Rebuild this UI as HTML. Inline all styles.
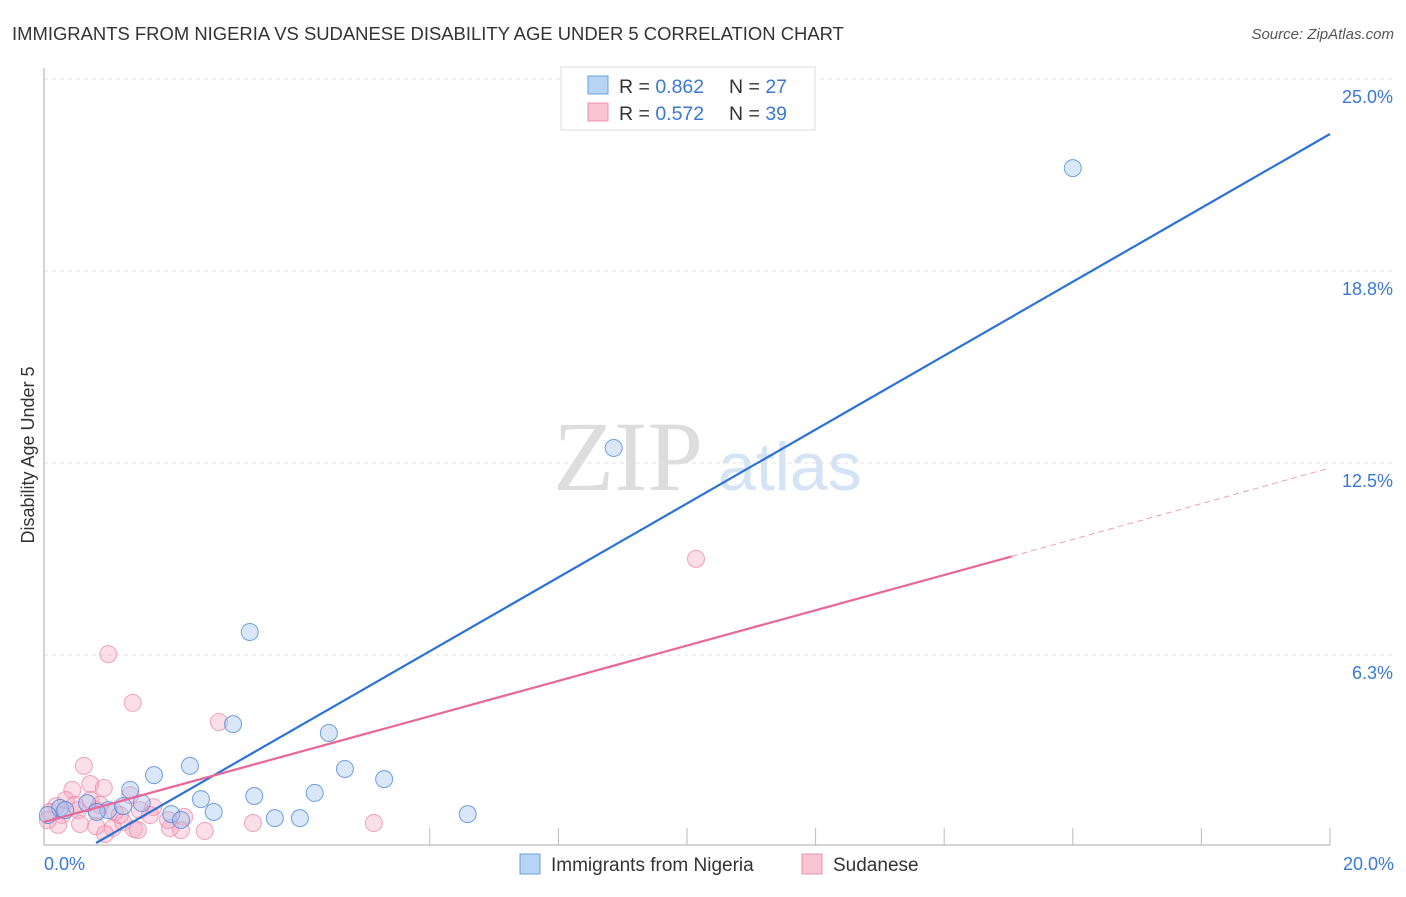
<!DOCTYPE html>
<html><head><meta charset="utf-8"><style>
body{margin:0;background:#fff;font-family:"Liberation Sans",sans-serif}
svg text{font-family:"Liberation Sans",sans-serif}
</style></head><body>
<svg width="1406" height="892">
<text x="12" y="40" font-size="18.45" fill="#333">IMMIGRANTS FROM NIGERIA VS SUDANESE DISABILITY AGE UNDER 5 CORRELATION CHART</text>
<text x="1394" y="39" font-size="15" fill="#555" font-style="italic" text-anchor="end">Source: ZipAtlas.com</text>
<text x="553" y="490" font-size="100" fill="#ddd" style="font-family:'Liberation Serif',serif">ZIP</text>
<text x="718" y="490" font-size="68" fill="#d5e4f5">atlas</text>
<g id="grid"></g>
<line x1="44" y1="68" x2="44" y2="845" stroke="#aaa"/>
<line x1="44" y1="845" x2="1330" y2="845" stroke="#aaa"/>
<text transform="translate(34,455) rotate(-90)" font-size="18" fill="#333" text-anchor="middle">Disability Age Under 5</text>
<text x="44" y="870" font-size="18" fill="#3a78d4">0.0%</text>
<text x="1394" y="870" font-size="18" fill="#3a78d4" text-anchor="end">20.0%</text>
<g id="marks"></g>
<g>
<rect x="561" y="67" width="254" height="63" fill="#fff" stroke="#ddd"/>
<rect x="588" y="76" width="20" height="18" fill="#b8d4f5" stroke="#6a9fe0"/>
<rect x="588" y="103" width="20" height="18" fill="#f9c4d4" stroke="#e890ae"/>
<text x="619" y="93" font-size="19.5" fill="#333">R = <tspan fill="#3a78d4">0.862</tspan></text>
<text x="729" y="93" font-size="19.5" fill="#333">N = <tspan fill="#3a78d4">27</tspan></text>
<text x="619" y="120" font-size="19.5" fill="#333">R = <tspan fill="#3a78d4">0.572</tspan></text>
<text x="729" y="120" font-size="19.5" fill="#333">N = <tspan fill="#3a78d4">39</tspan></text>
</g>
<g>
<rect x="520" y="854" width="20" height="20" fill="#b8d4f5" stroke="#6a9fe0"/>
<text x="551" y="871" font-size="19" fill="#333">Immigrants from Nigeria</text>
<rect x="802" y="854" width="20" height="20" fill="#f9c4d4" stroke="#e890ae"/>
<text x="833" y="871" font-size="19" fill="#333">Sudanese</text>
</g>
</svg>
<script>
const yTicks=[6.25,12.5,18.75,25];
const yTickLabels=["6.3%","12.5%","18.8%","25.0%"];
const xTicks=[6,8,10,12,14,16,18,20];
const nigeriaX=[16.00,8.86,3.20,2.94,4.43,2.27,1.71,4.68,5.29,1.34,3.27,4.21,2.44,1.52,0.67,0.25,1.00,0.06,1.23,1.98,2.64,2.13,3.59,3.98,6.59,0.33,0.82];
const nigeriaY=[22.10,12.99,7.00,4.00,3.71,2.64,2.34,2.54,2.21,1.86,1.66,1.76,1.56,1.43,1.43,1.27,1.20,1.04,1.33,1.07,1.14,0.88,0.94,0.94,1.07,1.20,1.14];
const sudanX=[10.14,1.00,1.38,2.72,0.62,0.72,0.93,0.44,1.34,1.70,0.19,0.09,0.28,0.53,0.82,1.10,1.49,2.18,1.23,0.56,0.81,1.07,1.96,1.40,2.50,3.25,5.13,2.13,0.95,1.46,0.06,0.34,0.72,0.22,1.93,1.18,1.65,0.48,0.87];
const sudanY=[9.38,6.28,4.69,4.07,2.64,2.05,1.92,1.86,1.69,1.30,1.33,1.14,1.04,1.20,1.20,1.14,1.20,0.98,0.81,0.75,0.68,0.62,0.62,0.59,0.52,0.78,0.78,0.55,0.42,0.55,0.88,1.53,1.53,0.72,0.88,1.04,1.04,1.37,1.37];
const nigeriaTrend=[[0.81,0.13],[20,23.21]];
const sudanTrend=[[0,0.81],[15.05,9.46],[20,12.34]];
const X=v=>44+v*64.3, Y=v=>847-v*30.72;
const NS="http://www.w3.org/2000/svg";
function mk(t,a,p){const e=document.createElementNS(NS,t);for(const k in a)e.setAttribute(k,a[k]);p.appendChild(e);return e;}
const grid=document.getElementById('grid'), marks=document.getElementById('marks');
yTicks.forEach((t,i)=>{
 const g=mk('line',{x1:44,x2:1394,y1:Y(t),y2:Y(t),stroke:'#e2e2e2','stroke-dasharray':'4,4'},grid);
 
 
 const l=mk('text',{x:1393,y:Y(t)+24,'font-size':18,fill:'#3a78d4','text-anchor':'end'},grid);
 l.textContent=yTickLabels[i];
 
 
});
xTicks.forEach(t=>{
 const k=mk('line',{x1:X(t),x2:X(t),y1:828,y2:845,stroke:'#bbb'},grid);
 
 
});
sudanX.forEach((x,i)=>{
 const c=mk('circle',{cx:X(x),cy:Y(sudanY[i]),r:8.5,fill:'rgba(244,160,188,0.35)',stroke:'rgba(232,130,165,0.7)'},marks);
 
 
});
nigeriaX.forEach((x,i)=>{
 const c=mk('circle',{cx:X(x),cy:Y(nigeriaY[i]),r:8.5,fill:'rgba(160,196,240,0.4)',stroke:'rgba(70,130,215,0.75)'},marks);
 
 
});
const bl=mk('line',{x1:X(nigeriaTrend[0][0]),y1:Y(nigeriaTrend[0][1]),x2:X(nigeriaTrend[1][0]),y2:Y(nigeriaTrend[1][1]),stroke:'#2a72d6','stroke-width':2.2},marks);


const pl=mk('line',{x1:X(sudanTrend[0][0]),y1:Y(sudanTrend[0][1]),x2:X(sudanTrend[1][0]),y2:Y(sudanTrend[1][1]),stroke:'#e8689a','stroke-width':2.2},marks);


const pd=mk('line',{x1:X(sudanTrend[1][0]),y1:Y(sudanTrend[1][1]),x2:X(sudanTrend[2][0]),y2:Y(sudanTrend[2][1]),stroke:'#e8a0bc','stroke-width':1,'stroke-dasharray':'6,4'},marks);


</script>
</body></html>
